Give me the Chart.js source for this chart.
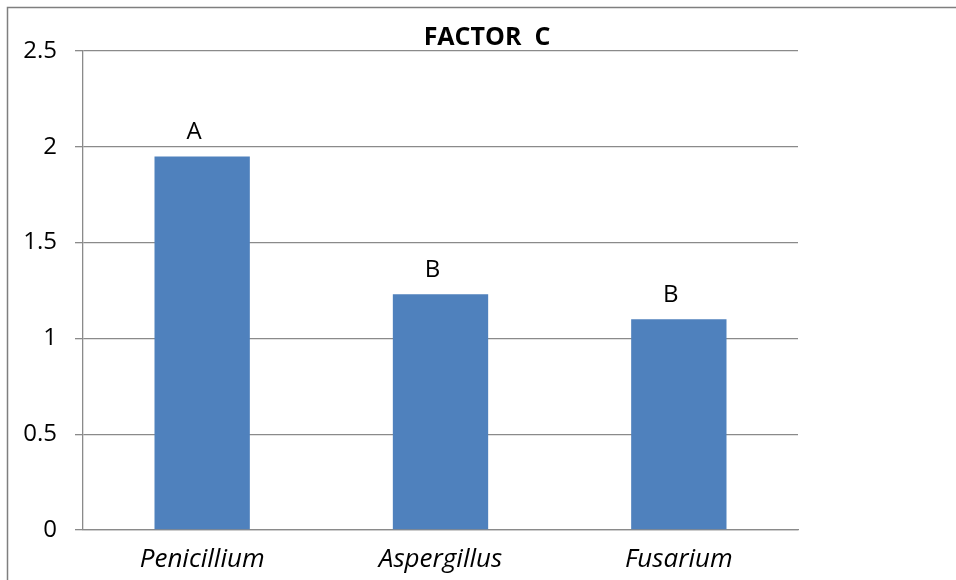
<!DOCTYPE html>
<html>
<head>
<meta charset="utf-8">
<script src="https://cdn.jsdelivr.net/npm/chart.js@4.4.1/dist/chart.umd.min.js"></script>
<style>
  html, body { margin: 0; padding: 0; background: #ffffff; }
  #wrap { width: 956px; height: 580px; position: relative; }
</style>
</head>
<body>
<div id="wrap"><canvas id="c" width="956" height="580"></canvas></div>
<script>
// Fungal genera and their Factor C means
const genera = ['Penicillium', 'Aspergillus', 'Fusarium'];
const factorC = [1.95, 1.23, 1.10];
// Significance groups shown above each bar
const groupLetters = ['A', 'B', 'B'];
// Value axis ticks
const yTicks = [0, 0.5, 1, 1.5, 2, 2.5];
const chartTitle = 'FACTOR  C';

const FONT = "'Open Sans', 'DejaVu Sans', sans-serif";
const GRID = '#8a8a8a';

// Outer frame of the chart object and the title text
const framePlugin = {
  id: 'frame',
  afterDraw(chart) {
    const ctx = chart.ctx;
    ctx.save();
    ctx.strokeStyle = '#7f7f7f';
    ctx.lineWidth = 1.5;
    ctx.strokeRect(7.5, 7.5, 2000, 2000);
    ctx.fillStyle = '#000000';
    ctx.font = 'bold 25px ' + FONT;
    ctx.textAlign = 'center';
    ctx.textBaseline = 'alphabetic';
    ctx.fillText(chartTitle, 487, 45);
    ctx.restore();
  }
};

// Group letters above the bars
const lettersPlugin = {
  id: 'letters',
  afterDatasetsDraw(chart) {
    const ctx = chart.ctx;
    const meta = chart.getDatasetMeta(0);
    ctx.save();
    ctx.fillStyle = '#000000';
    ctx.font = '24px ' + FONT;
    ctx.textAlign = 'center';
    ctx.textBaseline = 'alphabetic';
    meta.data.forEach((bar, i) => {
      ctx.fillText(groupLetters[i], bar.x - 8, bar.y - 17);
    });
    ctx.restore();
  }
};

new Chart(document.getElementById('c'), {
  type: 'bar',
  data: {
    labels: genera,
    datasets: [{
      data: factorC,
      backgroundColor: '#4f81bd',
      borderWidth: 0,
      barPercentage: 0.4,
      categoryPercentage: 1.0
    }]
  },
  options: {
    responsive: false,
    animation: false,
    layout: { padding: { left: 0, top: 51, right: 158, bottom: 0 } },
    plugins: {
      legend: { display: false },
      tooltip: { enabled: false },
      title: { display: false }
    },
    scales: {
      x: {
        grid: { display: false, drawTicks: false },
        border: { display: true, color: GRID, width: 1.3 },
        ticks: {
          color: '#000000',
          padding: 14,
          font: { family: FONT, size: 26, style: 'italic' }
        },
        afterFit(scale) { scale.height = 50; }
      },
      y: {
        min: yTicks[0],
        max: yTicks[yTicks.length - 1],
        afterBuildTicks(scale) { scale.ticks = yTicks.map(v => ({ value: v })); },
        grid: { color: GRID, lineWidth: 1.3, tickLength: 8, drawTicks: true },
        border: { display: true, color: GRID, width: 1.3 },
        ticks: {
          color: '#000000',
          padding: 18,
          font: { family: FONT, size: 24 },
          callback: v => String(v)
        },
        afterFit(scale) { scale.width = 83; }
      }
    }
  },
  plugins: [framePlugin, lettersPlugin]
});
</script>
</body>
</html>
